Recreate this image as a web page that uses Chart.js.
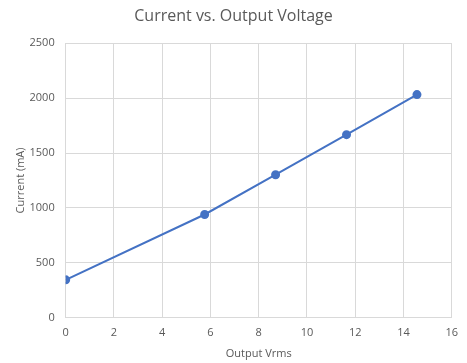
<!DOCTYPE html>
<html>
<head>
<meta charset="utf-8">
<script src="https://cdn.jsdelivr.net/npm/chart.js@4"></script>
<style>
  html, body { margin: 0; padding: 0; background: #fff; }
  #wrap { width: 467px; height: 363px; }
</style>
</head>
<body>
<div id="wrap"><canvas id="chart" width="467" height="363"></canvas></div>
<script>
// data
const outputVrms = [0, 5.76, 8.7, 11.64, 14.56];
const currentMa = [345, 940, 1302, 1667, 2032];
const xTicks = [0, 2, 4, 6, 8, 10, 12, 14, 16];
const yTicks = [0, 500, 1000, 1500, 2000, 2500];

const points = outputVrms.map((x, i) => ({ x: x, y: currentMa[i] }));
const textColor = '#595959';
const gridColor = '#d9d9d9';
const fontFamily = "'Open Sans', 'Noto Sans', sans-serif";

const ctx = document.getElementById('chart').getContext('2d');
const chart = new Chart(ctx, {
    type: 'scatter',
    data: {
        datasets: [{
            label: 'Current',
            data: points,
            showLine: true,
            borderColor: '#4472C4',
            backgroundColor: '#4472C4',
            borderWidth: 2,
            pointRadius: 3.5,
            pointHoverRadius: 3.5,
            tension: 0
        }]
    },
    options: {
        responsive: false,
        animation: false,
        // equal side padding keeps the title centred on the canvas
        layout: { padding: { left: 14, right: 14, top: 0, bottom: 0 } },
        plugins: {
            legend: { display: false },
            tooltip: { enabled: false },
            title: {
                display: true,
                text: 'Current vs. Output Voltage',
                color: textColor,
                font: { family: fontFamily, size: 16, weight: 'normal' },
                padding: { top: 7, bottom: 17 }
            }
        },
        scales: {
            x: {
                type: 'linear',
                min: xTicks[0],
                max: xTicks[xTicks.length - 1],
                afterBuildTicks: (scale) => { scale.ticks = xTicks.map(v => ({ value: v })); },
                afterFit: (scale) => { scale.height = 45.3; },
                grid: { color: gridColor, drawTicks: false },
                border: { color: gridColor },
                ticks: {
                    color: textColor, padding: 9,
                    font: { family: fontFamily, size: 11 },
                    callback: (v) => String(v)
                },
                title: {
                    display: true,
                    text: 'Output Vrms',
                    color: textColor,
                    font: { family: fontFamily, size: 11 },
                    padding: { top: 4, bottom: 3 }
                }
            },
            y: {
                type: 'linear',
                min: yTicks[0],
                max: yTicks[yTicks.length - 1],
                afterBuildTicks: (scale) => { scale.ticks = yTicks.map(v => ({ value: v })); },
                afterFit: (scale) => { scale.width = 51.7; },
                grid: { color: gridColor, drawTicks: false },
                border: { color: gridColor },
                ticks: {
                    color: textColor, padding: 11,
                    font: { family: fontFamily, size: 11 },
                    callback: (v) => String(v)
                },
                title: {
                    display: true,
                    text: 'Current (mA)',
                    color: textColor,
                    font: { family: fontFamily, size: 11 },
                    padding: { top: 0, bottom: 4 }
                }
            }
        }
    }
});
</script>
</body>
</html>
